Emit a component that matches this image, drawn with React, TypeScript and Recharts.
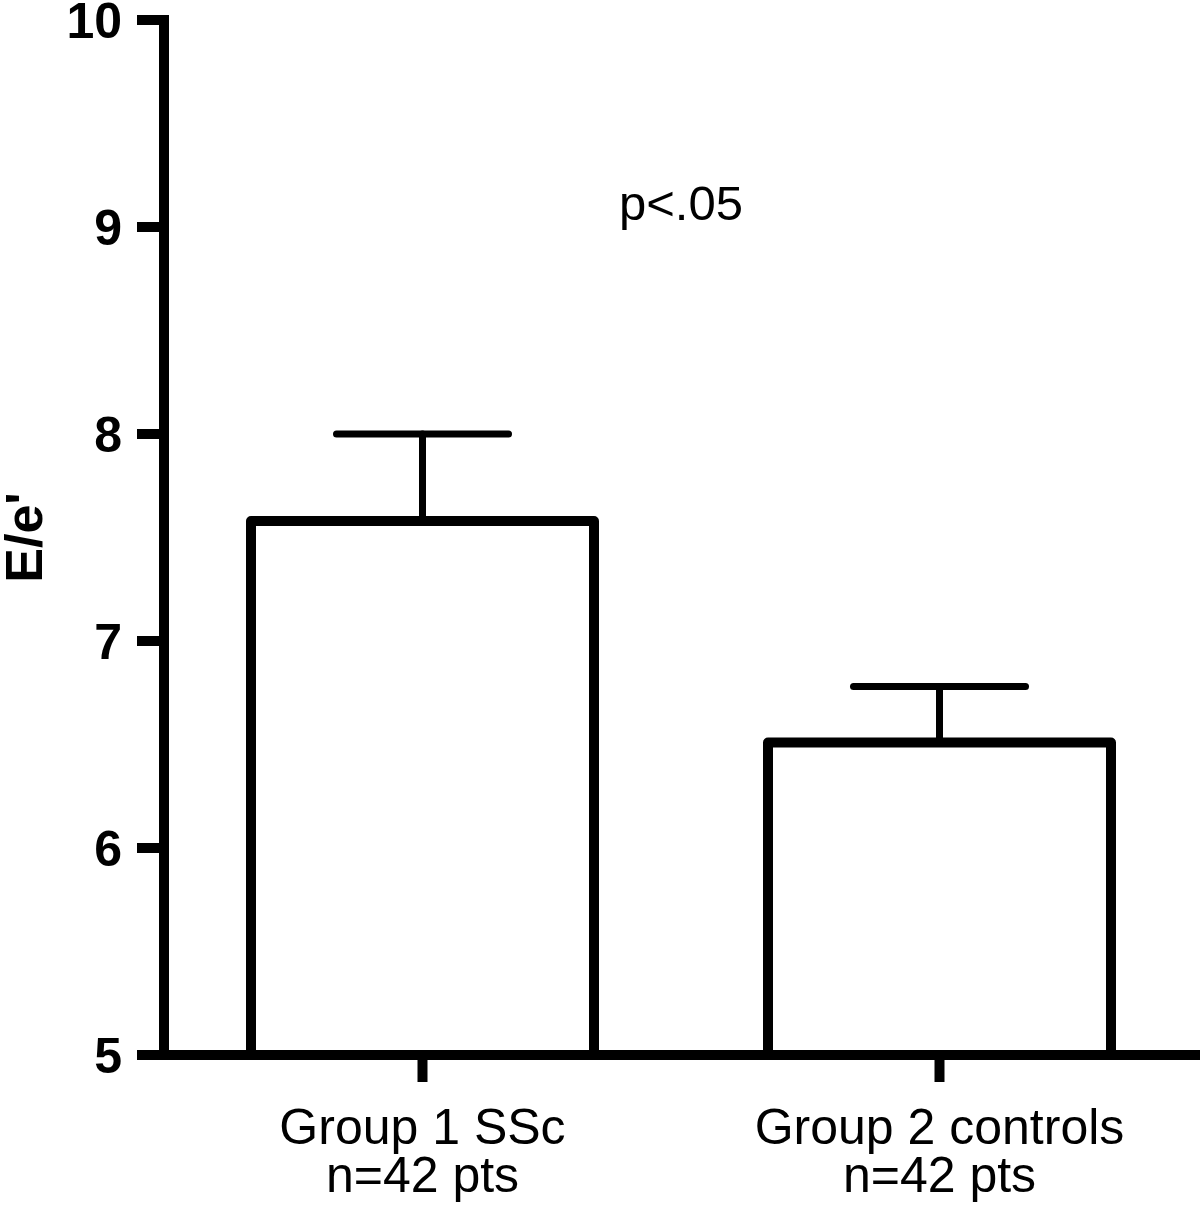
import {
  BarChart,
  Bar,
  XAxis,
  YAxis,
  ErrorBar,
  ReferenceLine,
  Label,
} from "recharts"

// groups, means and upper SEM
const groups = ["Group 1 SSc", "Group 2 controls"]
const counts = ["n=42 pts", "n=42 pts"]
const means = [7.58, 6.51]
const upperErr = [0.42, 0.27]
const yTicks = [5, 6, 7, 8, 9, 10]
const pText = "p<.05"
const yTitle = "E/e'"

const FONT = "'Liberation Sans', Arial, Helvetica, sans-serif"

const data = groups.map((g, i) => ({
  group: g,
  count: counts[i],
  mean: means[i],
  err: [0, upperErr[i]],
}))

function GroupTick({ x, y, payload, index }: any) {
  return (
    <text
      x={x}
      y={y}
      textAnchor="middle"
      fill="#000"
      fontFamily={FONT}
      fontSize={50}
    >
      <tspan x={x} dy={67}>
        {payload.value}
      </tspan>
      <tspan x={x} dy={48}>
        {counts[index]}
      </tspan>
    </text>
  )
}

function YTitle({ viewBox }: any) {
  const cx = viewBox.x + 24
  const cy = viewBox.y + viewBox.height / 2
  return (
    <text
      x={cx}
      y={cy}
      transform={`rotate(-90, ${cx}, ${cy})`}
      textAnchor="middle"
      dominantBaseline="central"
      fill="#000"
      fontFamily={FONT}
      fontWeight="bold"
      fontSize={52}
    >
      {yTitle}
    </text>
  )
}

export default function App() {
  return (
    <div style={{ position: "absolute", left: 0, top: 0, background: "#fff" }}>
      <BarChart
        width={1200}
        height={1214}
        data={data}
        margin={{ top: 20, right: 2, left: 0, bottom: 0 }}
      >
        <XAxis
          dataKey="group"
          height={159}
          interval={0}
          axisLine={{ stroke: "#000", strokeWidth: 10, strokeLinecap: "square" }}
          tickLine={{ stroke: "#000", strokeWidth: 10, strokeLinecap: "square" }}
          tickSize={22}
          tickMargin={0}
          tick={<GroupTick />}
        />
        <YAxis
          type="number"
          domain={[5, 10]}
          ticks={yTicks}
          interval={0}
          allowDataOverflow
          width={164}
          axisLine={{ stroke: "#000", strokeWidth: 10, strokeLinecap: "square" }}
          tickLine={{ stroke: "#000", strokeWidth: 10, strokeLinecap: "square" }}
          tickSize={22}
          tickMargin={20}
          tick={{ fill: "#000", fontSize: 50, fontWeight: "bold", fontFamily: FONT }}
        >
          <Label content={<YTitle />} />
        </YAxis>
        <ReferenceLine
          y={9.12}
          stroke="none"
          label={{
            value: pText,
            position: "center",
            fill: "#000",
            fontSize: 49,
            fontFamily: FONT,
          }}
        />
        <Bar
          dataKey="mean"
          barSize={343}
          fill="#fff"
          stroke="#000"
          strokeWidth={10}
          strokeLinejoin="round"
          isAnimationActive={false}
        >
          <ErrorBar
            dataKey="err"
            direction="y"
            width={86}
            stroke="#000"
            strokeWidth={7}
            strokeLinecap="round"
            isAnimationActive={false}
          />
        </Bar>
      </BarChart>
    </div>
  )
}
